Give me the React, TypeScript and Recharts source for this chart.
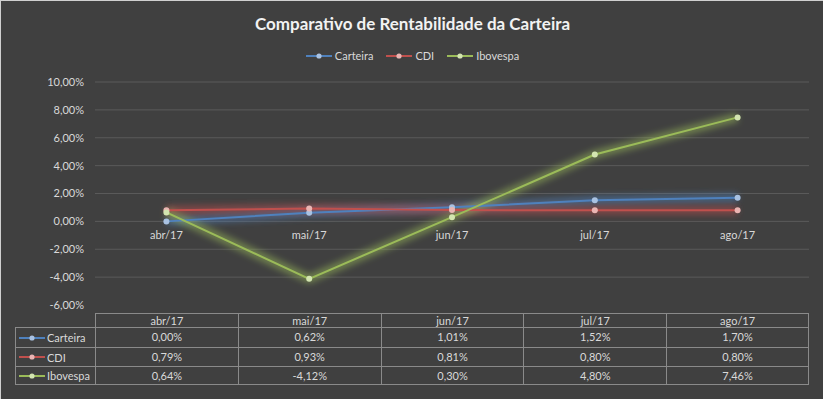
import React from 'react';
import { LineChart, Line, XAxis, YAxis, CartesianGrid, ReferenceDot } from 'recharts';

const months = ['abr/17', 'mai/17', 'jun/17', 'jul/17', 'ago/17'];
const carteira = [0.0, 0.62, 1.01, 1.52, 1.7];
const cdi = [0.79, 0.93, 0.81, 0.8, 0.8];
const ibovespa = [0.64, -4.12, 0.3, 4.8, 7.46];
const yTicks = [-6, -4, -2, 0, 2, 4, 6, 8, 10];
const gridValues = [-4, -2, 0, 2, 4, 6, 8, 10];

const title = 'Comparativo de Rentabilidade da Carteira';

const series = [
  { key: 'carteira', name: 'Carteira', values: carteira, color: '#4f81bd', dot: '#a9c2e2' },
  { key: 'cdi', name: 'CDI', values: cdi, color: '#c0504d', dot: '#eab5b3' },
  { key: 'ibovespa', name: 'Ibovespa', values: ibovespa, color: '#9bbb59', dot: '#d3e5b0' },
];

const data = months.map((m, i) => ({
  month: m,
  carteira: carteira[i],
  cdi: cdi[i],
  ibovespa: ibovespa[i],
}));

const W = 823;
const H = 399;
const PLOT_LEFT = 94;
const PLOT_RIGHT = 808;
const PLOT_TOP = 81;
const PLOT_BOTTOM = 304;
const TABLE_LEFT = 14;
const TABLE_TOP = 312;
const HEADER_H = 14;
const ROW_HS = [20, 19, 19];

const FONT = 'Lato, "Open Sans", sans-serif';
const TEXT = '#d9d9d9';
const BORDER = '#8a8a8a';

const fmt = (v: number) => v.toFixed(2).replace('.', ',') + '%';

const Marker = ({ color, dot }: { color: string; dot: string }) => (
  <svg width={26} height={8} style={{ display: 'block' }}>
    <line x1={0} y1={4} x2={26} y2={4} stroke={color} strokeWidth={2} />
    <circle cx={13} cy={4} r={2.6} fill={dot} />
  </svg>
);

export default function App() {
  const colW = (PLOT_RIGHT - PLOT_LEFT) / months.length;
  const rowTops = [TABLE_TOP + HEADER_H];
  for (let i = 1; i < ROW_HS.length; i++) rowTops.push(rowTops[i - 1] + ROW_HS[i - 1]);

  return (
    <div
      style={{
        position: 'fixed',
        left: 0,
        top: 0,
        width: W,
        height: H,
        background: '#404040',
        fontFamily: FONT,
        overflow: 'hidden',
        boxSizing: 'border-box',
        borderTop: '1px solid #d0d0d0',
        borderLeft: '1px solid #d0d0d0',
      }}
    >
      <div
        style={{
          position: 'absolute',
          left: 0,
          width: W,
          top: 11,
          textAlign: 'center',
          color: '#f2f2f2',
          fontWeight: 700,
          fontSize: 17,
          lineHeight: '24px',
        }}
      >
        {title}
      </div>
      <div
        style={{
          position: 'absolute',
          left: 0,
          width: W,
          top: 47,
          display: 'flex',
          justifyContent: 'center',
          alignItems: 'center',
          gap: 13,
          color: TEXT,
          fontSize: 11,
          lineHeight: '16px',
        }}
      >
        {series.map((s) => (
          <div key={s.key} style={{ display: 'flex', alignItems: 'center', gap: 3 }}>
            <Marker color={s.color} dot={s.dot} />
            <span>{s.name}</span>
          </div>
        ))}
      </div>

      <div style={{ position: 'absolute', left: 0, top: 0 }}>
        <LineChart
          width={W}
          height={H}
          data={data}
          margin={{ top: PLOT_TOP, right: W - PLOT_RIGHT, bottom: H - PLOT_BOTTOM, left: 0 }}
        >
          <defs>
            <filter id="glow" filterUnits="userSpaceOnUse" x={0} y={0} width={W} height={H}>
              <feGaussianBlur stdDeviation={3} />
            </filter>
          </defs>
          <CartesianGrid
            vertical={false}
            stroke="#5a5a5a"
            strokeWidth={1}
            horizontalValues={gridValues}
          />
          <XAxis dataKey="month" type="category" scale="band" hide />
          <YAxis
            type="number"
            domain={[-6, 10]}
            ticks={yTicks}
            width={PLOT_LEFT}
            axisLine={false}
            tickLine={false}
            tickSize={0}
            tickMargin={11}
            tickFormatter={fmt}
            tick={{ fill: TEXT, fontSize: 11, fontFamily: FONT }}
            interval={0}
          />
          {months.map((m) => (
            <ReferenceDot
              key={m}
              x={m}
              y={0}
              r={0}
              fill="none"
              stroke="none"
              label={{ value: m, position: 'bottom', offset: 10, fill: TEXT, fontSize: 11, fontFamily: FONT }}
            />
          ))}
          {series.map((s) => (
            <Line
              key={'glow-' + s.key}
              dataKey={s.key}
              stroke={s.color}
              strokeWidth={9}
              strokeOpacity={0.5}
              dot={false}
              activeDot={false}
              legendType="none"
              filter="url(#glow)"
              isAnimationActive={false}
            />
          ))}
          {series.map((s) => (
            <Line
              key={s.key}
              dataKey={s.key}
              name={s.name}
              stroke={s.color}
              strokeWidth={2}
              dot={{ r: 3, fill: s.dot, stroke: 'none' }}
              activeDot={false}
              isAnimationActive={false}
            />
          ))}
        </LineChart>
      </div>

      {/* data table */}
      <div style={{ position: 'absolute', left: 0, top: 0, width: W, height: H, color: TEXT, fontSize: 11 }}>
        {months.map((m, i) => (
          <div
            key={'h-' + m}
            style={{
              position: 'absolute',
              left: PLOT_LEFT + i * colW,
              top: TABLE_TOP,
              width: colW,
              height: HEADER_H,
              boxSizing: 'border-box',
              borderTop: `1px solid ${BORDER}`,
              borderLeft: `1px solid ${BORDER}`,
              borderRight: i === months.length - 1 ? `1px solid ${BORDER}` : 'none',
              textAlign: 'center',
              lineHeight: '14px',
            }}
          >
            {m}
          </div>
        ))}
        {series.map((s, r) => (
          <React.Fragment key={'row-' + s.key}>
            <div
              style={{
                position: 'absolute',
                left: TABLE_LEFT,
                top: rowTops[r],
                width: PLOT_LEFT - TABLE_LEFT,
                height: ROW_HS[r],
                boxSizing: 'border-box',
                borderTop: `1px solid ${BORDER}`,
                borderLeft: `1px solid ${BORDER}`,
                borderBottom: r === series.length - 1 ? `1px solid ${BORDER}` : 'none',
                display: 'flex',
                alignItems: 'center',
                gap: 2,
                paddingLeft: 3,
              }}
            >
              <Marker color={s.color} dot={s.dot} />
              <span>{s.name}</span>
            </div>
            {s.values.map((v, i) => (
              <div
                key={s.key + '-' + i}
                style={{
                  position: 'absolute',
                  left: PLOT_LEFT + i * colW,
                  top: rowTops[r],
                  width: colW,
                  height: ROW_HS[r],
                  boxSizing: 'border-box',
                  borderTop: `1px solid ${BORDER}`,
                  borderLeft: `1px solid ${BORDER}`,
                  borderRight: i === months.length - 1 ? `1px solid ${BORDER}` : 'none',
                  borderBottom: r === series.length - 1 ? `1px solid ${BORDER}` : 'none',
                  textAlign: 'center',
                  lineHeight: ROW_HS[r] - 2 + 'px',
                }}
              >
                {fmt(v)}
              </div>
            ))}
          </React.Fragment>
        ))}
      </div>
    </div>
  );
}
